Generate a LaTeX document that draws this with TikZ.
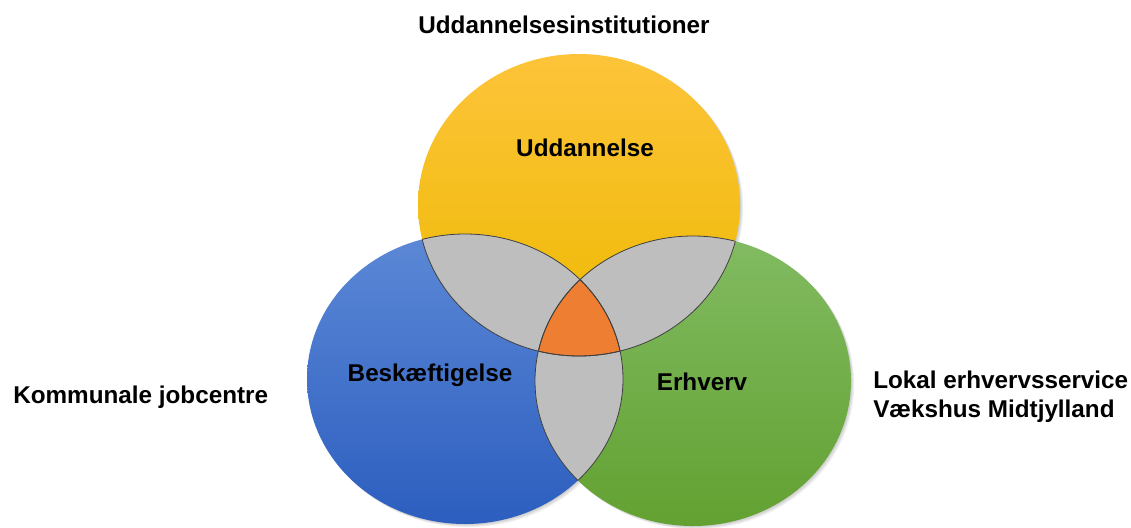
\documentclass[tikz,border=0pt]{standalone}
\usepackage{fontspec}
\setmainfont{Liberation Sans}
\definecolor{yeltop}{HTML}{FDC43A}
\definecolor{yelbot}{HTML}{EDB900}
\definecolor{blutop}{HTML}{5C88D6}
\definecolor{blubot}{HTML}{2C5EBF}
\definecolor{grntop}{HTML}{82BB62}
\definecolor{grnbot}{HTML}{62A131}
\definecolor{lensgray}{HTML}{BEBEBE}
\definecolor{coreorange}{HTML}{EE7E32}
\begin{document}
\begin{tikzpicture}[x=0.75pt, y=-0.75pt, line join=round, line cap=round,
    lbl/.style={font=\fontsize{18.2}{22}\selectfont\bfseries, inner sep=0pt},
    rim/.style={draw=black!75, line width=0.6pt}]
	\useasboundingbox (0,0) rectangle (1131,528);
	\def\yel{(579,205) ellipse [x radius=161, y radius=151]}
	\def\blu{(465,379) ellipse [x radius=158, y radius=145]}
	\def\grn{(693,381) ellipse [x radius=158, y radius=145]}
	% soft shadows
	\foreach \s in {1,2,3,4}{
		\begin{scope}[shift={(\s*0.8,\s*0.8)}]
			\fill[black, opacity=0.05] \yel;
			\fill[black, opacity=0.05] \blu;
			\fill[black, opacity=0.05] \grn;
		\end{scope}
	}
	% circles
	\shade[top color=yeltop, bottom color=yelbot] \yel;
	\shade[top color=blutop, bottom color=blubot] \blu;
	\shade[top color=grntop, bottom color=grnbot] \grn;
	% pairwise overlaps
	\begin{scope}
		\clip \yel;
		\fill[lensgray] \blu;
		\fill[lensgray] \grn;
	\end{scope}
	\begin{scope}
		\clip \blu;
		\fill[lensgray] \grn;
	\end{scope}
	% triple overlap
	\begin{scope}
		\clip \yel;
		\clip \blu;
		\fill[coreorange] \grn;
	\end{scope}
	% outlines of the overlaps
	\begin{scope}
		\clip \yel;
		\draw[rim] \blu;
		\draw[rim] \grn;
	\end{scope}
	\begin{scope}
		\clip \blu;
		\draw[rim] \yel;
		\draw[rim] \grn;
	\end{scope}
	\begin{scope}
		\clip \grn;
		\draw[rim] \yel;
		\draw[rim] \blu;
	\end{scope}
	% labels
	\node[lbl] (uddlabel) at (585,148) {Uddannelse};
	\node[lbl] (beslabel) at (430,375) {Beskæftigelse};
	\node[lbl] (erhlabel) at (702,382) {Erhverv};
	\node[lbl] (uddinst) at (564,25) {Uddannelsesinstitutioner};
	\node[lbl, anchor=west] (jobcentre) at (13,397) {Kommunale jobcentre};
	\node[lbl, anchor=west, align=left] (vaekst) at (873,397) {Lokal erhvervsservice\\Vækshus Midtjylland};
\end{tikzpicture}
\end{document}
